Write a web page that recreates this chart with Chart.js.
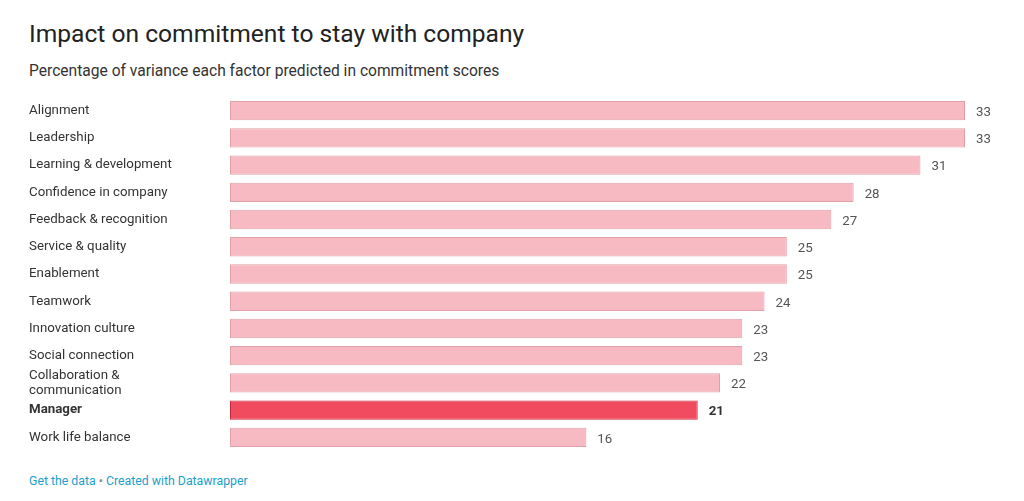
<!DOCTYPE html>
<html>
<head>
<meta charset="utf-8">
<script src="https://cdn.jsdelivr.net/npm/chart.js@4"></script>
<style>
  html, body { margin: 0; padding: 0; background: #fff; }
  body { width: 1024px; height: 501px; position: relative; overflow: hidden; font-family: Roboto, "Noto Sans", sans-serif; }
  #title { position: absolute; left: 29px; top: 22px; font-size: 24.6px; line-height: 1; color: #222; white-space: nowrap; }
  #subtitle { position: absolute; left: 29px; top: 64px; font-size: 15.6px; line-height: 1; color: #333; white-space: nowrap; }
  #chartBox { position: absolute; left: 0; top: 97px; width: 1024px; height: 354px; }
  #footer { position: absolute; left: 29px; top: 474px; font-size: 12.3px; color: #1aa0cc; white-space: nowrap; }
  #footer .dot { color: #888; }
</style>
</head>
<body>
<div id="title">Impact on commitment to stay with company</div>
<div id="subtitle">Percentage of variance each factor predicted in commitment scores</div>
<div id="chartBox"><canvas id="chart"></canvas></div>
<div id="footer">Get the data <span class="dot">•</span> Created with Datawrapper</div>
<script>
// data
const factors = [
    "Alignment", "Leadership", "Learning & development", "Confidence in company",
    "Feedback & recognition", "Service & quality", "Enablement", "Teamwork",
    "Innovation culture", "Social connection", ["Collaboration &", "communication"],
    "Manager", "Work life balance"
];
const scores = [33, 33, 31, 28, 27, 25, 25, 24, 23, 23, 22, 21, 16];
const highlight = "Manager";

const isHi = i => factors[i] === highlight;

// value labels next to each bar
const valueLabels = {
    id: "valueLabels",
    afterDatasetsDraw(chart) {
        const ctx = chart.ctx;
        const meta = chart.getDatasetMeta(0);
        ctx.save();
        ctx.textBaseline = "middle";
        ctx.textAlign = "left";
        meta.data.forEach((bar, i) => {
            ctx.font = (isHi(i) ? "bold " : "") + "13.3px Roboto";
            ctx.fillStyle = isHi(i) ? "#333" : "#555";
            ctx.fillText(scores[i], bar.x + 11, bar.y + 2);
        });
        ctx.restore();
    }
};

new Chart(document.getElementById("chart"), {
    type: "bar",
    data: {
        labels: factors,
        datasets: [{
            data: scores,
            backgroundColor: factors.map((f, i) => isHi(i) ? "#f04b5e" : "#f8bac2"),
            borderColor: factors.map((f, i) => isHi(i) ? "#c4283b" : "#e0a0a8"),
            borderWidth: 1,
            borderSkipped: false,
            categoryPercentage: 1,
            barPercentage: 0.71
        }]
    },
    options: {
        indexAxis: "y",
        responsive: true,
        maintainAspectRatio: false,
        animation: false,
        layout: { padding: { left: 29, right: 59, top: 0, bottom: 0 } },
        plugins: { legend: { display: false }, tooltip: { enabled: false } },
        scales: {
            x: { display: false, min: 0, max: 33 },
            y: {
                border: { display: false },
                grid: { display: false },
                afterFit: s => { s.width = 201; s.paddingTop = 0; s.paddingBottom = 0; },
                ticks: {
                    autoSkip: false,
                    crossAlign: "far",
                    color: "#333",
                    padding: 0,
                    font: c => ({
                        family: "Roboto",
                        size: 13.3,
                        lineHeight: 1.15,
                        weight: factors[c.index] === highlight ? "bold" : "normal"
                    })
                }
            }
        }
    },
    plugins: [valueLabels]
});
</script>
</body>
</html>
